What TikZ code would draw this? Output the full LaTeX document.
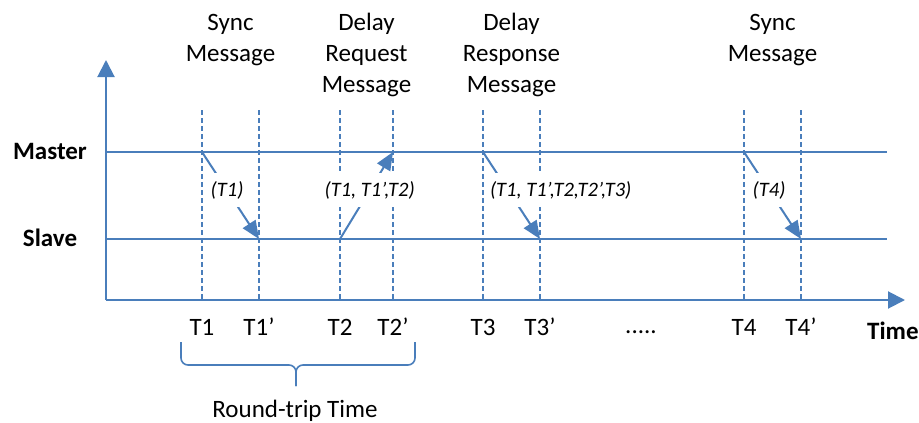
\documentclass[tikz,border=0pt]{standalone}
\usepackage{fontspec}
\setmainfont{Carlito}
\usetikzlibrary{arrows.meta}

\definecolor{lineblue}{RGB}{74,126,187}

\tikzset{
  axis/.style={lineblue,line width=2pt,-{Triangle[length=17pt,width=17pt]}},
  track/.style={lineblue,line width=2pt},
  tick/.style={lineblue,line width=1.8pt,dash pattern=on 5pt off 3pt},
  msg/.style={lineblue,line width=2pt,-{Triangle[length=18pt,width=15pt]}},
  stamp/.style={fill=white,text=black,inner xsep=2pt,inner ysep=0pt,minimum height=34pt,
    font=\fontsize{20.5}{24}\selectfont\itshape},
  caption/.style={anchor=base,align=center,inner sep=0pt,
    font=\fontsize{25}{31}\selectfont},
  lane/.style={anchor=base,inner sep=0pt,font=\fontsize{25}{30}\selectfont\bfseries},
  bracket/.style={lineblue,line width=1.6pt,rounded corners=7pt},
}

\begin{document}
\begin{tikzpicture}[x=1pt,y=-1pt]
\useasboundingbox (0,0) rectangle (919,423);

% time stamps on both lines
\foreach \n/\x in {1/202,1p/259,2/340,2p/393,3/483,3p/540,4/744,4p/801}{
    \coordinate (m\n) at (\x,152);
    \coordinate (s\n) at (\x,239);
    \coordinate (top\n) at (\x,110);
    \coordinate (bot\n) at (\x,300);
    \draw[tick] (top\n)--(bot\n);
}

% axes
\coordinate (o) at (106,300);
\coordinate (yend) at (106,60);
\coordinate (xend) at (905,300);
\draw[axis] (o)--(yend);
\draw[axis] (o)--(xend);

% master and slave
\coordinate (mstart) at (106,152);
\coordinate (mend) at (887,152);
\coordinate (sstart) at (106,239);
\coordinate (send) at (887,239);
\draw[track] (mstart)--(mend);
\draw[track] (sstart)--(send);
\node[lane] (master) at (50,159){Master};
\node[lane] (slave) at (50,246){Slave};

% messages
\draw[msg] (m1)--(s1p) node[stamp,pos=0.44]{(T1)};
\draw[msg] (s2)--(m2p) node[stamp,pos=0.56]{(T1, T1',T2)};
\draw[msg] (m3)--(s3p) node[stamp,anchor=west] at (487,190){(T1, T1',T2,T2',T3)};
\draw[msg] (m4)--(s4p) node[stamp,pos=0.44]{(T4)};

% message names (base = last line)
\node[caption] (sync) at (230.5,61){Sync\\Message};
\node[caption] (dreq) at (366.5,92){Delay\\Request\\Message};
\node[caption] (dresp) at (511.5,92){Delay\\Response\\Message};
\node[caption] (sync2) at (772.5,61){Sync\\Message};

% time labels
\node[caption] (t1) at (202,335){T1};
\node[caption] (t1p) at (259,335){T1'};
\node[caption] (t2) at (340,335){T2};
\node[caption] (t2p) at (393,335){T2'};
\node[caption] (t3) at (483,335){T3};
\node[caption] (t3p) at (540,335){T3'};
\node[caption] (dots) at (641,333){.....};
\node[caption] (t4) at (744,335){T4};
\node[caption] (t4p) at (801,335){T4'};
\node[lane,anchor=base west] (time) at (867,339){Time};

% round trip
\coordinate (bl) at (181,342);
\coordinate (br) at (415,342);
\coordinate (bmid) at (296,365);
\coordinate (btip) at (296,386);
\draw[bracket] (bl)|-(bmid)--(btip);
\draw[bracket] (br)|-(bmid)--(btip);
\node[caption] (rtt) at (295,417){Round-trip Time};
\end{tikzpicture}
\end{document}
